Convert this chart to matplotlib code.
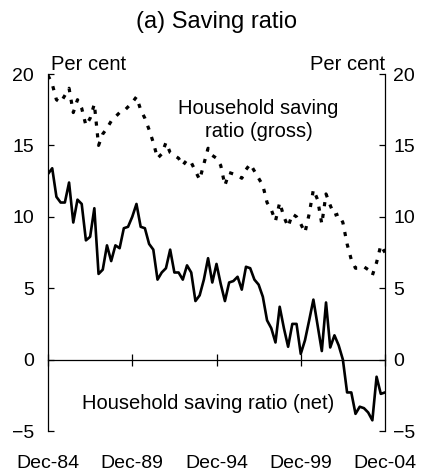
import numpy as np
import matplotlib
matplotlib.use("Agg")
import matplotlib.pyplot as plt

plt.rcParams['font.family'] = ['Liberation Sans', 'DejaVu Sans']

# quarterly, Dec-84 to Dec-04
tick_pos = [0, 20, 40, 60, 80]
tick_labels = ["Dec-84", "Dec-89", "Dec-94", "Dec-99", "Dec-04"]
y_ticks = [-5, 0, 5, 10, 15, 20]

net = [13.0, 13.4, 11.4, 11.0, 11.0, 12.4, 9.6, 11.2, 10.9, 8.35,
       8.6, 10.6, 6.0, 6.3, 8.0, 6.9, 8.0, 7.8, 9.2, 9.3,
       10.0, 10.9, 9.3, 9.2, 8.1, 7.7, 5.6, 6.1, 6.4, 7.7,
       6.1, 6.1, 5.6, 6.6, 6.1, 4.1, 4.5, 5.6, 7.1, 5.4,
       6.7, 5.3, 4.1, 5.4, 5.5, 5.8, 4.9, 6.5, 6.4, 5.6,
       5.25, 4.4, 2.75, 2.2, 1.2, 3.7, 2.2, 0.9, 2.5, 2.5,
       0.4, 1.35, 2.75, 4.2, 2.4, 0.6, 4.0, 0.85, 1.7, 1.0,
       0.0, -2.3, -2.3, -3.8, -3.3, -3.4, -3.7, -4.25, -1.2, -2.4,
       -2.3]

gross = [19.9, 19.3, 18.2, 18.0, 18.5, 19.0, 17.3, 18.2, 17.6, 16.4,
         16.9, 17.9, 15.0, 15.8, 16.2, 16.7, 17.0, 17.3, 17.4, 17.7,
         18.0, 18.4, 17.5, 16.9, 16.1, 15.2, 14.1, 14.4, 15.2, 14.5,
         14.3, 14.1, 13.6, 14.0, 13.8, 13.2, 12.6, 13.7, 14.8, 14.3,
         14.1, 13.6, 12.2, 13.1, 13.0, 12.9, 12.7, 13.3, 13.7, 13.2,
         12.7, 12.2, 11.0, 10.5, 9.7, 11.0, 10.0, 9.3, 10.2, 10.0,
         9.5, 8.9, 10.2, 11.9, 11.2, 9.5, 11.6, 10.8, 10.1, 10.2,
         9.6, 8.1, 7.0, 6.4, 6.4, 6.5, 6.3, 5.9, 6.8, 8.0,
         7.5]

x = np.arange(len(net))

fig = plt.figure(figsize=(4.24, 4.75), dpi=100)
ax = fig.add_axes([48/424, 1 - 431/475, (385-48)/424, (431-74)/475])

ax.plot(x, gross, color="black", lw=2.3, linestyle=(0, (1.3, 2.4)),
        dash_capstyle="butt")
ax.plot(x, net, color="black", lw=1.9)

ax.set_xlim(0, 80)
ax.set_ylim(-5, 20)
ax.set_yticks(y_ticks)

ax.spines['top'].set_visible(False)
ax.spines['bottom'].set_position(('data', 0))
for s in ax.spines.values():
    s.set_linewidth(0.9)

# x ticks sit on the zero line, labels go at the bottom
ax.set_xticks(tick_pos)
ax.tick_params(axis='x', direction='inout', length=9, width=0.9,
               labelbottom=False)
ax.tick_params(axis='y', direction='in', length=4, width=0.9,
               labelsize=14, pad=10, left=True, right=True)

ax2 = ax.secondary_yaxis('right')
ax2.set_yticks(y_ticks)
ax2.tick_params(length=0, labelsize=14, pad=6)
ax2.spines['right'].set_visible(False)

sec = ax.secondary_xaxis('bottom')
sec.set_xticks(tick_pos)
sec.set_xticklabels(tick_labels)
sec.tick_params(length=0, labelsize=14, pad=17)
sec.spines['bottom'].set_visible(False)

ax.set_title("(a) Saving ratio", fontsize=17, pad=33)

ax.text(0.01, 1.0, "Per cent", transform=ax.transAxes, fontsize=14.5,
        ha='left', va='bottom')
ax.text(1.0, 1.0, "Per cent", transform=ax.transAxes, fontsize=14.5,
        ha='right', va='bottom')
ax.text(50, 16.8, "Household saving\nratio (gross)", fontsize=14.5,
        ha='center', va='center', linespacing=1.25)
ax.text(38, -3.1, "Household saving ratio (net)", fontsize=14.5,
        ha='center', va='center')

fig.savefig("out.png", dpi=100)
